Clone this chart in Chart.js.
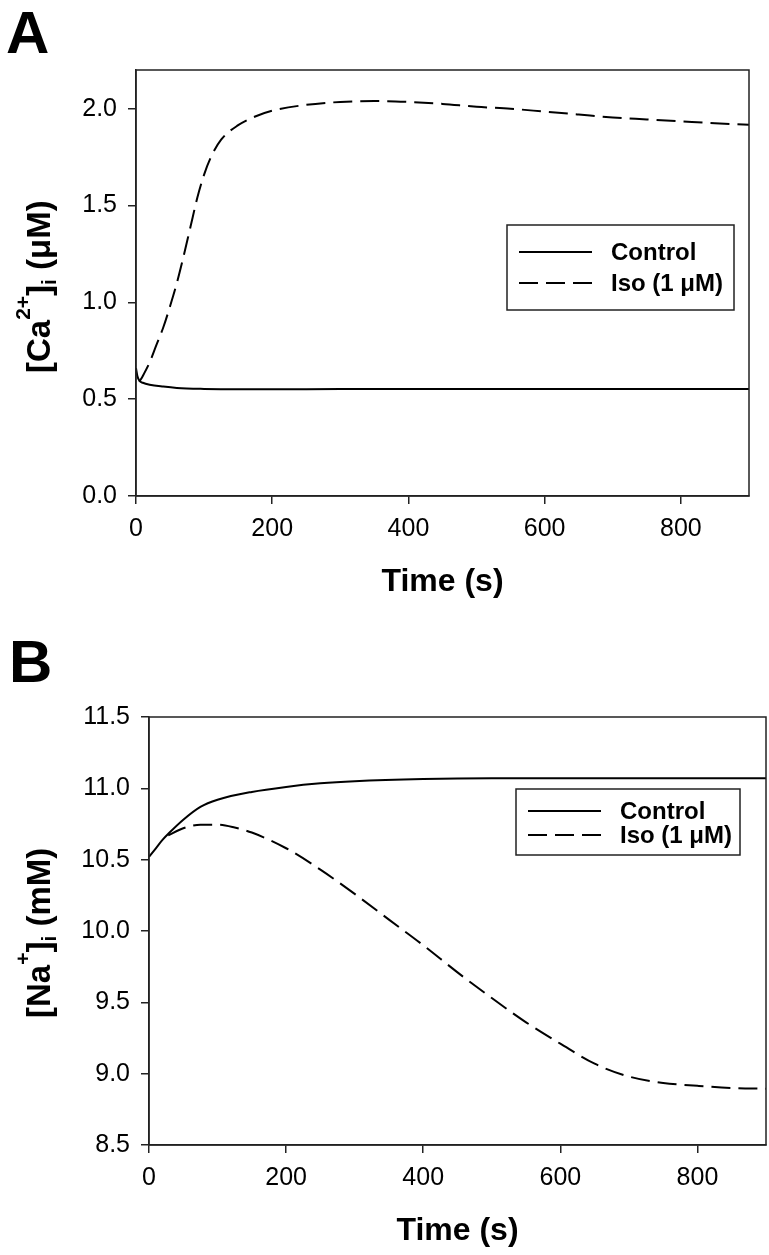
<!DOCTYPE html>
<html>
<head>
<meta charset="utf-8">
<script src="https://cdn.jsdelivr.net/npm/chart.js@4.4.0/dist/chart.umd.min.js"></script>
<style>
  body { margin: 0; background: #fff; }
  canvas { display: block; }
</style>
</head>
<body>
<canvas id="caChart" width="769" height="615"></canvas>
<canvas id="naChart" width="769" height="640"></canvas>
<script>
// Panel A: [Ca2+]i (uM) vs time (s)
const caControlT = [0, 2, 5, 10, 20, 40, 60, 100, 150, 200, 300, 400, 500, 600, 700, 800, 900];
const caControl = [0.66, 0.62, 0.595, 0.585, 0.575, 0.565, 0.558, 0.553, 0.551, 0.551, 0.552, 0.552, 0.552, 0.552, 0.552, 0.552, 0.552];
const caIsoT = [5, 10, 20, 30, 40, 50, 60, 70, 80, 90, 100, 110, 125, 150, 175, 200, 250, 300, 350, 400, 450, 500, 550, 600, 650, 700, 750, 800, 850, 900];
const caIso = [0.59, 0.62, 0.69, 0.78, 0.87, 0.98, 1.10, 1.24, 1.39, 1.54, 1.66, 1.75, 1.84, 1.915, 1.96, 1.99, 2.02, 2.035, 2.04, 2.035, 2.025, 2.01, 2.0, 1.985, 1.97, 1.955, 1.945, 1.935, 1.925, 1.917];

// Panel B: [Na+]i (mM) vs time (s)
const naControlT = [0, 10, 20, 30, 50, 75, 100, 150, 200, 250, 300, 400, 500, 600, 700, 800, 900];
const naControl = [10.52, 10.58, 10.64, 10.69, 10.78, 10.87, 10.92, 10.975, 11.01, 11.035, 11.05, 11.065, 11.07, 11.07, 11.07, 11.07, 11.07];
const naIsoT = [28, 50, 75, 100, 125, 150, 200, 250, 300, 350, 400, 450, 500, 550, 600, 650, 700, 750, 800, 850, 900];
const naIso = [10.67, 10.72, 10.745, 10.745, 10.725, 10.69, 10.58, 10.43, 10.26, 10.08, 9.90, 9.71, 9.53, 9.36, 9.21, 9.07, 8.98, 8.935, 8.915, 8.90, 8.895];

const seriesLabels = ['Control', 'Iso (1 \u03BCM)'];
const timeTicks = { min: 0, max: 900, step: 200 };

const FONT = "'Liberation Sans', Arial, Helvetica, sans-serif";
Chart.defaults.font.family = FONT;
Chart.defaults.color = '#000';

const toPoints = (xs, ys) => xs.map((x, i) => ({ x: x, y: ys[i] }));

// frame, legend and all the axis texts
const decorPlugin = {
    id: 'decor',
    afterDatasetsDraw(chart, args, o) {
        const ctx = chart.ctx;
        const a = chart.chartArea;
        ctx.save();
        ctx.strokeStyle = '#222';
        ctx.lineWidth = 1.5;
        ctx.strokeRect(a.left, a.top, a.right - a.left, a.bottom - a.top);

        // legend box
        const lg = o.legend;
        ctx.fillStyle = '#fff';
        ctx.fillRect(lg.x, lg.y, lg.w, lg.h);
        ctx.strokeRect(lg.x, lg.y, lg.w, lg.h);
        ctx.font = 'bold 24px ' + FONT;
        ctx.textBaseline = 'middle';
        ctx.fillStyle = '#000';
        chart.data.datasets.forEach((ds, i) => {
            const y = lg.y + lg.rows[i];
            ctx.beginPath();
            ctx.setLineDash(ds.borderDash || []);
            ctx.lineWidth = 2;
            ctx.strokeStyle = '#000';
            ctx.moveTo(lg.x + 12, y);
            ctx.lineTo(lg.x + 85, y);
            ctx.stroke();
            ctx.setLineDash([]);
            ctx.fillText(ds.label, lg.x + 104, y + 1);
        });
        ctx.restore();
    },
    afterDraw(chart, args, o) {
        const ctx = chart.ctx;
        const a = chart.chartArea;
        ctx.save();
        ctx.fillStyle = '#000';
        ctx.textBaseline = 'alphabetic';
        ctx.textAlign = 'left';
        ctx.font = 'bold 60px ' + FONT;
        ctx.fillText(o.letter, o.letterX, o.letterY);

        ctx.textAlign = 'center';
        ctx.font = 'bold 32px ' + FONT;
        ctx.fillText('Time (s)', (a.left + a.right) / 2, a.bottom + 95);

        // rotated y title with super/subscripts
        ctx.translate(50, o.yTitleBottom);
        ctx.rotate(-Math.PI / 2);
        ctx.textAlign = 'left';
        let x = 0;
        o.yTitle.forEach(seg => {
            ctx.font = 'bold ' + (seg.size || 33) + 'px ' + FONT;
            ctx.fillText(seg.t, x, seg.dy || 0);
            x += ctx.measureText(seg.t).width;
        });
        ctx.restore();
    }
};

function makeChart(id, datasets, y, layout, decor) {
    return new Chart(document.getElementById(id).getContext('2d'), {
        type: 'line',
        data: { datasets: datasets },
        plugins: [decorPlugin],
        options: {
            responsive: false,
            animation: false,
            devicePixelRatio: 1,
            layout: { padding: layout.padding },
            elements: { point: { radius: 0 }, line: { cubicInterpolationMode: 'monotone' } },
            scales: {
                x: {
                    type: 'linear',
                    min: timeTicks.min,
                    max: timeTicks.max,
                    afterFit: s => { s.height = layout.xHeight; },
                    border: { display: true, color: '#222', width: 1.5 },
                    grid: { drawOnChartArea: false, drawTicks: true, tickLength: 8, color: '#222', lineWidth: 1.5 },
                    ticks: { stepSize: timeTicks.step, includeBounds: false, padding: 10, font: { size: 25 }, maxRotation: 0 }
                },
                y: {
                    min: y.min,
                    max: y.max,
                    afterFit: s => { s.width = layout.yWidth; },
                    border: { display: true, color: '#222', width: 1.5 },
                    grid: { drawOnChartArea: false, drawTicks: true, tickLength: 8, color: '#222', lineWidth: 1.5 },
                    ticks: { stepSize: 0.5, includeBounds: false, padding: 11, font: { size: 25 },
                        callback: v => v.toFixed(1) }
                }
            },
            plugins: {
                legend: { display: false },
                tooltip: { enabled: false },
                decor: decor
            }
        }
    });
}

const caChart = makeChart('caChart', [
    {
        label: seriesLabels[0],
        data: toPoints(caControlT, caControl),
        borderColor: '#000',
        borderWidth: 2,
        fill: false
    },
    {
        label: seriesLabels[1],
        data: toPoints(caIsoT, caIso),
        borderColor: '#000',
        borderWidth: 2,
        borderDash: [19, 8],
        fill: false
    }
], { min: 0, max: 2.2 },
   { padding: { top: 70, right: 20, left: 0, bottom: 0 }, yWidth: 136, xHeight: 119 },
   {
       letter: 'A', letterX: 6, letterY: 53,
       yTitleBottom: 373,
       yTitle: [{ t: '[Ca' }, { t: '2+', size: 21, dy: -20 }, { t: ']' }, { t: 'i', size: 21, dy: 6 }, { t: ' (\u03BCM)' }],
       legend: { x: 507, y: 225, w: 227, h: 85, rows: [27, 58] }
   });

const naChart = makeChart('naChart', [
    {
        label: seriesLabels[0],
        data: toPoints(naControlT, naControl),
        borderColor: '#000',
        borderWidth: 2,
        fill: false
    },
    {
        label: seriesLabels[1],
        data: toPoints(naIsoT, naIso),
        borderColor: '#000',
        borderWidth: 2,
        borderDash: [19, 8],
        fill: false
    }
], { min: 8.5, max: 11.5 },
   { padding: { top: 102, right: 3, left: 0, bottom: 0 }, yWidth: 149, xHeight: 110 },
   {
       letter: 'B', letterX: 9, letterY: 67,
       yTitleBottom: 403,
       yTitle: [{ t: '[Na' }, { t: '+', size: 21, dy: -20 }, { t: ']' }, { t: 'i', size: 21, dy: 6 }, { t: ' (mM)' }],
       legend: { x: 516, y: 174, w: 224, h: 66, rows: [22, 46] }
   });
</script>
</body>
</html>
